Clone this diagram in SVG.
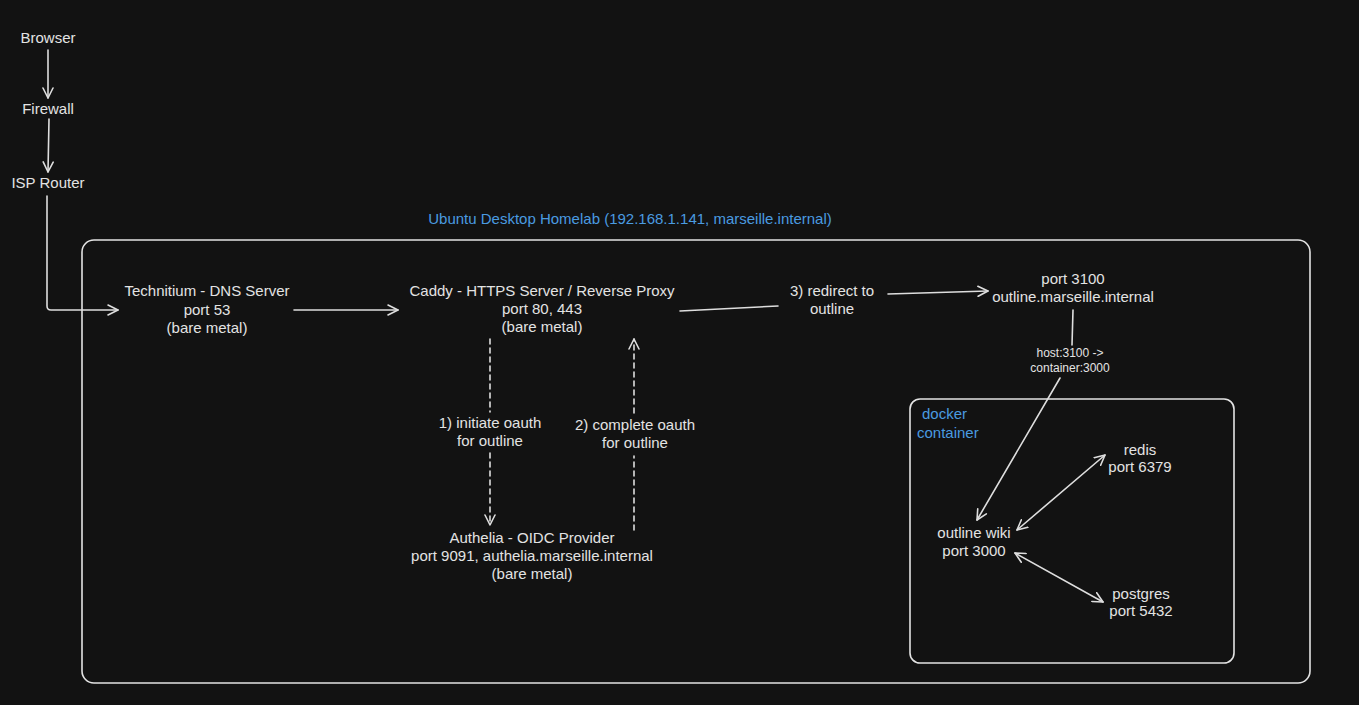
<svg xmlns="http://www.w3.org/2000/svg" width="1359" height="705" viewBox="0 0 1359 705">
<style>
text{font-family:"Liberation Sans",Arial,sans-serif;font-size:15px;fill:#e3e3e3;text-anchor:middle}
.blue{fill:#4a9be0}
.sm{font-size:12px}
.st{text-anchor:start}
.ln{stroke:#dedede;stroke-width:1.6;fill:none;stroke-linecap:round;stroke-linejoin:round}
.dash{stroke-dasharray:5 4}
.box{stroke:#e3e3e3;stroke-width:1.6;fill:none}
</style>
<defs>
<marker id="ah" viewBox="0 0 12 12" refX="11" refY="6" markerWidth="12" markerHeight="12" markerUnits="userSpaceOnUse" orient="auto-start-reverse">
<path d="M1,1 L11,6 L1,11" fill="none" stroke="#dedede" stroke-width="1.6" stroke-linecap="round" stroke-linejoin="round"/>
</marker>
</defs>
<rect width="1359" height="705" fill="#121212"/>
<g id="homelab">
<rect class="box" x="82" y="240" width="1228" height="443" rx="12"/>
<text class="blue" x="630" y="224">Ubuntu Desktop Homelab (192.168.1.141, marseille.internal)</text>
</g>
<g id="docker">
<rect class="box" x="910" y="399" width="324" height="264" rx="10"/>
<text class="blue st" x="922" y="419">docker</text>
<text class="blue st" x="917" y="438">container</text>
</g>
<g id="browser"><text x="48" y="43">Browser</text></g>
<g id="firewall"><text x="48" y="114">Firewall</text></g>
<g id="isp"><text x="48" y="188">ISP Router</text></g>
<g id="technitium">
<text x="207" y="296">Technitium - DNS Server</text>
<text x="207" y="315">port 53</text>
<text x="207" y="333">(bare metal)</text>
</g>
<g id="caddy">
<text x="542" y="296">Caddy - HTTPS Server / Reverse Proxy</text>
<text x="542" y="314">port 80, 443</text>
<text x="542" y="332">(bare metal)</text>
</g>
<g id="outline-host">
<text x="1073" y="284">port 3100</text>
<text x="1073" y="302">outline.marseille.internal</text>
</g>
<g id="authelia">
<text x="532" y="543">Authelia - OIDC Provider</text>
<text x="532" y="561">port 9091, authelia.marseille.internal</text>
<text x="532" y="579">(bare metal)</text>
</g>
<g id="redis">
<text x="1140" y="455">redis</text>
<text x="1140" y="472">port 6379</text>
</g>
<g id="outline-wiki">
<text x="974" y="538">outline wiki</text>
<text x="974" y="556">port 3000</text>
</g>
<g id="postgres">
<text x="1141" y="599">postgres</text>
<text x="1141" y="616">port 5432</text>
</g>
<g id="connectors">
<line class="ln" x1="48" y1="50" x2="48" y2="98" marker-end="url(#ah)"/>
<line class="ln" x1="49" y1="119" x2="48" y2="172" marker-end="url(#ah)"/>
<path class="ln" d="M47,196 L47,306 Q47,310 51,310 L118,310" marker-end="url(#ah)"/>
<line class="ln" x1="294" y1="310" x2="398" y2="310" marker-end="url(#ah)"/>
<line class="ln" x1="680" y1="311" x2="778" y2="306"/>
<line class="ln" x1="888" y1="294" x2="988" y2="291" marker-end="url(#ah)"/>
<text x="832" y="296">3) redirect to</text>
<text x="832" y="314">outline</text>
<line class="ln" x1="1073" y1="310" x2="1072" y2="345"/>
<text class="sm" x="1070" y="357">host:3100 -&gt;</text>
<text class="sm" x="1070" y="372">container:3000</text>
<line class="ln" x1="1060" y1="378" x2="977" y2="520" marker-end="url(#ah)"/>
<line class="ln" x1="1017" y1="530" x2="1105" y2="455" marker-start="url(#ah)" marker-end="url(#ah)"/>
<line class="ln" x1="1015" y1="553" x2="1103" y2="602" marker-start="url(#ah)" marker-end="url(#ah)"/>
<line class="ln dash" x1="490" y1="339" x2="490" y2="412"/>
<line class="ln dash" x1="490" y1="453" x2="490" y2="525" marker-end="url(#ah)"/>
<text x="490" y="428">1) initiate oauth</text>
<text x="490" y="446">for outline</text>
<line class="ln dash" x1="634" y1="530" x2="634" y2="456"/>
<line class="ln dash" x1="634" y1="413" x2="634" y2="339" marker-end="url(#ah)"/>
<text x="635" y="430">2) complete oauth</text>
<text x="635" y="448">for outline</text>
</g>
</svg>
